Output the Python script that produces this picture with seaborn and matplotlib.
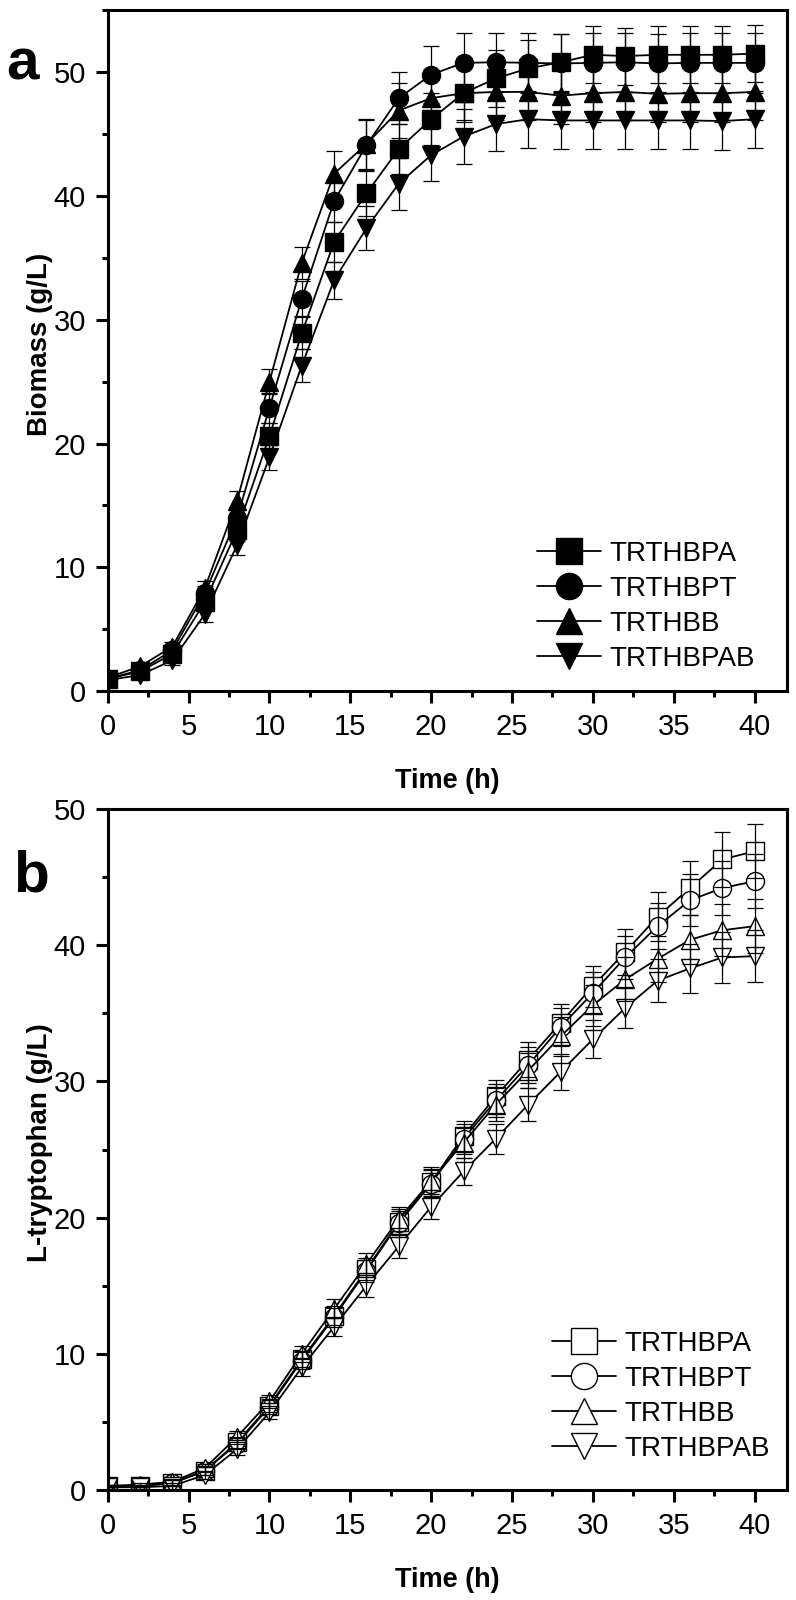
import matplotlib
matplotlib.use("Agg")
import matplotlib.pyplot as plt
import numpy as np
import pandas as pd
import seaborn as sns
from matplotlib.ticker import MultipleLocator

# Sampling times (h)
time_h = [0, 2, 4, 6, 8, 10, 12, 14, 16, 18, 20, 22, 24, 26, 28, 30, 32, 34, 36, 38, 40]
strains = ["TRTHBPA", "TRTHBPT", "TRTHBB", "TRTHBPAB"]
markers = {"TRTHBPA": "s", "TRTHBPT": "o", "TRTHBB": "^", "TRTHBPAB": "v"}

# Panel a - biomass (g/L)
biomass_bpa = [1.0, 1.6, 3.0, 7.2, 13.0, 20.6, 28.9, 36.3, 40.2, 43.8, 46.2, 48.3, 49.5, 50.3, 50.8, 51.4, 51.3, 51.4, 51.4, 51.4, 51.5]
biomass_bpt = [1.0, 1.7, 3.3, 7.9, 14.0, 22.9, 31.7, 39.6, 44.1, 47.9, 49.8, 50.75, 50.8, 50.75, 50.7, 50.75, 50.8, 50.7, 50.75, 50.75, 50.75]
biomass_bb = [1.1, 2.0, 3.6, 8.3, 15.4, 25.0, 34.6, 41.8, 44.2, 46.9, 47.9, 48.3, 48.4, 48.4, 48.1, 48.3, 48.4, 48.25, 48.3, 48.3, 48.4]
biomass_bpab = [0.9, 1.3, 2.5, 6.2, 11.8, 18.9, 26.3, 33.2, 37.4, 41.0, 43.3, 44.8, 45.8, 46.2, 46.1, 46.1, 46.1, 46.1, 46.1, 46.05, 46.2]

biomass_err_bpa = [0.2, 0.3, 0.4, 0.6, 0.9, 1.1, 1.3, 1.6, 1.8, 2.0, 2.1, 2.2, 2.3, 2.3, 2.3, 2.3, 2.3, 2.3, 2.3, 2.3, 2.3]
biomass_err_bpt = [0.2, 0.3, 0.4, 0.6, 0.9, 1.2, 1.4, 1.7, 2.0, 2.1, 2.3, 2.4, 2.4, 2.4, 2.4, 2.4, 2.4, 2.4, 2.4, 2.4, 2.4]
biomass_err_bb = [0.2, 0.3, 0.4, 0.6, 0.8, 1.0, 1.3, 1.8, 2.0, 2.2, 2.3, 2.3, 2.3, 2.3, 2.3, 2.3, 2.3, 2.3, 2.3, 2.3, 2.3]
biomass_err_bpab = [0.2, 0.3, 0.4, 0.6, 0.8, 1.0, 1.3, 1.5, 1.8, 2.1, 2.1, 2.2, 2.2, 2.3, 2.3, 2.3, 2.3, 2.3, 2.3, 2.3, 2.3]

# Panel b - L-tryptophan (g/L)
trp_bpa = [0.3, 0.3, 0.5, 1.4, 3.5, 6.2, 9.6, 12.8, 16.2, 19.7, 22.6, 26.0, 28.9, 31.6, 34.3, 37.0, 39.5, 42.1, 44.2, 46.3, 46.9]
trp_bpt = [0.3, 0.3, 0.5, 1.4, 3.4, 6.1, 9.5, 12.7, 16.1, 19.6, 22.5, 25.8, 28.6, 31.2, 34.0, 36.5, 39.1, 41.4, 43.3, 44.2, 44.7]
trp_bb = [0.3, 0.4, 0.6, 1.6, 3.9, 6.5, 10.0, 13.3, 16.6, 19.9, 22.7, 25.5, 28.3, 30.8, 33.3, 35.6, 37.5, 39.0, 40.4, 41.1, 41.4]
trp_bpab = [0.2, 0.2, 0.3, 1.1, 3.0, 5.7, 9.0, 12.0, 15.0, 17.9, 20.8, 23.4, 25.8, 28.3, 30.7, 33.1, 35.4, 37.4, 38.3, 39.1, 39.2]

trp_err_bpa = [0.1, 0.1, 0.2, 0.3, 0.4, 0.5, 0.6, 0.7, 0.8, 0.9, 1.0, 1.1, 1.2, 1.3, 1.4, 1.5, 1.7, 1.8, 2.0, 2.0, 2.0]
trp_err_bpt = [0.1, 0.1, 0.2, 0.3, 0.4, 0.5, 0.6, 0.7, 0.8, 0.9, 1.0, 1.1, 1.2, 1.3, 1.4, 1.5, 1.6, 1.7, 1.9, 2.0, 2.0]
trp_err_bb = [0.1, 0.1, 0.2, 0.3, 0.4, 0.5, 0.6, 0.7, 0.8, 0.9, 1.0, 1.1, 1.2, 1.3, 1.4, 1.5, 1.6, 1.7, 1.8, 1.9, 2.0]
trp_err_bpab = [0.1, 0.1, 0.2, 0.3, 0.4, 0.5, 0.6, 0.7, 0.8, 0.9, 0.9, 1.0, 1.1, 1.2, 1.3, 1.4, 1.5, 1.6, 1.8, 1.9, 1.9]


def tidy(values, errors):
    frames = []
    for s, v, e in zip(strains, values, errors):
        frames.append(pd.DataFrame({"time": time_h, "value": v, "err": e, "strain": s}))
    return pd.concat(frames, ignore_index=True)


df_a = tidy([biomass_bpa, biomass_bpt, biomass_bb, biomass_bpab],
            [biomass_err_bpa, biomass_err_bpt, biomass_err_bb, biomass_err_bpab])
df_b = tidy([trp_bpa, trp_bpt, trp_bb, trp_bpab],
            [trp_err_bpa, trp_err_bpt, trp_err_bb, trp_err_bpab])

sns.set_theme(style="ticks")
plt.rcParams["font.family"] = ["Liberation Sans", "DejaVu Sans"]
plt.rcParams.update({"text.color": "black", "axes.labelcolor": "black",
                     "xtick.color": "black", "ytick.color": "black",
                     "axes.edgecolor": "black"})

fig = plt.figure(figsize=(7.96, 16.0), dpi=100)
ax_a = fig.add_axes([0.1353, 0.568, 0.8534, 0.4256])
ax_b = fig.add_axes([0.1353, 0.06875, 0.8534, 0.4256])


def draw_panel(ax, df, face, ylabel, ylim, leg_anchor):
    sns.lineplot(data=df, x="time", y="value", style="strain", style_order=strains,
                 markers=markers, dashes=False, color="black", ax=ax, legend=False,
                 linewidth=1.3, markersize=13, markerfacecolor=face,
                 markeredgecolor="black", markeredgewidth=1.0)
    for s in strains:
        sub = df[df["strain"] == s]
        ax.errorbar(sub["time"], sub["value"], yerr=sub["err"], fmt="none",
                    ecolor="black", elinewidth=0.9, capsize=5.5, capthick=0.9, zorder=3)

    ax.set_xlim(0, 42)
    ax.set_ylim(*ylim)
    ax.xaxis.set_major_locator(MultipleLocator(5))
    ax.xaxis.set_minor_locator(MultipleLocator(2.5))
    ax.yaxis.set_major_locator(MultipleLocator(10))
    ax.yaxis.set_minor_locator(MultipleLocator(5))
    ax.tick_params(which="both", direction="out", width=2.2, top=False, right=False, color="black")
    ax.tick_params(which="major", length=8.6, labelsize=21, pad=7, labelcolor="black")
    ax.tick_params(which="minor", length=4.3)
    for sp in ax.spines.values():
        sp.set_linewidth(2.2)
        sp.set_color("black")

    ax.set_xlabel("Time (h)", fontsize=19.5, fontweight="bold", color="black")
    ax.set_ylabel(ylabel, fontsize=20, fontweight="bold", color="black")
    ax.xaxis.set_label_coords(0.5, -0.113)
    ax.yaxis.set_label_coords(-0.08, 0.51)

    handles = ax.get_lines()[:4]
    leg = ax.legend(handles, strains, loc="upper left", bbox_to_anchor=leg_anchor,
                    frameon=False, fontsize=20, markerscale=1.45, handlelength=2.3,
                    handletextpad=0.3, labelspacing=0.33, borderpad=0, borderaxespad=0)
    for t in leg.get_texts():
        t.set_color("black")


draw_panel(ax_a, df_a, "black", "Biomass (g/L)", (0, 55), (0.632, 0.221))
draw_panel(ax_b, df_b, "white", "L-tryptophan (g/L)", (0, 50), (0.654, 0.234))

fig.text(0.0075, 0.9506, "a", fontsize=42, fontweight="bold", ha="left", va="baseline")
fig.text(0.0163, 0.4425, "b", fontsize=42, fontweight="bold", ha="left", va="baseline")

fig.savefig("out.png", dpi=100)
